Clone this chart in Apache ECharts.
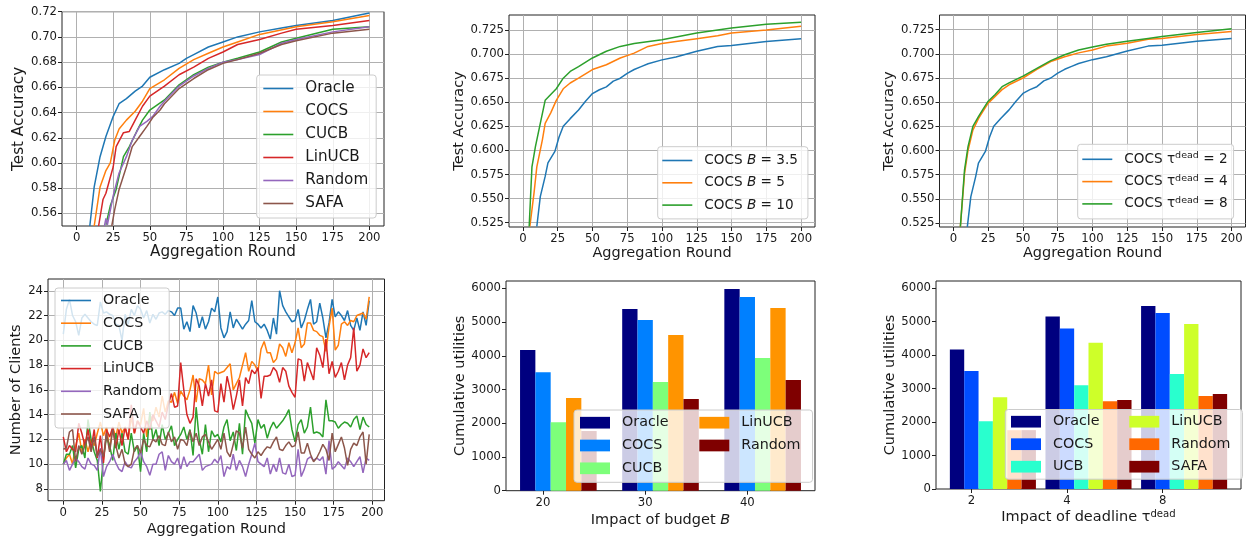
<!DOCTYPE html>
<html><head><meta charset="utf-8">
<script src="https://cdn.jsdelivr.net/npm/echarts@6.0.0/dist/echarts.min.js"></script>
<style>html,body{margin:0;padding:0;background:#fff}#c{width:1249px;height:541px}</style>
</head><body><div id="c"></div>
<script>
// ---------- Top-left: test accuracy of all methods ----------
const tlRoundsOracle = [9,12,16,20,25,29,34,40,45,50,60,70,75,80,90,100,110,125,140,150,175,200];
const tlAccOracle    = [0.550,0.581,0.605,0.621,0.637,0.647,0.651,0.657,0.661,0.668,0.674,0.679,0.683,0.686,0.692,0.696,0.700,0.704,0.707,0.709,0.713,0.719];
const tlRoundsCOCS   = [12,16,20,23,26,29,34,40,45,50,60,70,80,90,100,110,125,150,175,200];
const tlAccCOCS      = [0.550,0.581,0.594,0.600,0.618,0.627,0.634,0.641,0.649,0.659,0.666,0.675,0.682,0.687,0.692,0.696,0.702,0.708,0.712,0.717];
const tlRoundsCUCB   = [20,23,27,32,36,41,45,50,60,70,80,90,100,110,125,140,150,175,200];
const tlAccCUCB      = [0.551,0.566,0.579,0.605,0.613,0.625,0.634,0.642,0.650,0.662,0.670,0.676,0.680,0.683,0.688,0.696,0.699,0.706,0.708];
const tlRoundsLinUCB = [15,18,20,25,27,32,36,40,45,50,60,70,80,90,100,110,125,140,150,175,200];
const tlAccLinUCB    = [0.550,0.571,0.576,0.597,0.613,0.624,0.625,0.634,0.645,0.653,0.661,0.670,0.676,0.683,0.688,0.694,0.698,0.703,0.706,0.709,0.713];
const tlRoundsRandom = [19,20,21,25,29,34,38,43,48,52,57,60,70,80,90,100,110,125,140,150,175,200];
const tlAccRandom    = [0.550,0.556,0.551,0.574,0.592,0.605,0.618,0.629,0.633,0.637,0.645,0.649,0.661,0.669,0.675,0.680,0.682,0.686,0.695,0.698,0.704,0.708];
const tlRoundsSAFA   = [24,26,29,34,38,43,48,52,57,60,70,80,90,100,110,125,140,150,175,200];
const tlAccSAFA      = [0.550,0.563,0.579,0.597,0.613,0.621,0.629,0.636,0.642,0.647,0.659,0.667,0.674,0.679,0.682,0.687,0.694,0.697,0.703,0.706];
const tlYTicks = [0.56,0.58,0.60,0.62,0.64,0.66,0.68,0.70,0.72];

// ---------- Top-middle: impact of budget ----------
const budgetNames = ['3.5','5','10'];
const tmRoundsB35 = [10,12.5,16,18,23,26,29,34,40,45,50,55,60,65,70,75,80,85,90,100,110,125,140,150,175,200];
const tmAccB35    = [0.521,0.552,0.573,0.587,0.599,0.614,0.625,0.633,0.642,0.651,0.659,0.663,0.666,0.672,0.675,0.680,0.684,0.687,0.690,0.694,0.697,0.703,0.708,0.709,0.713,0.716];
const tmRoundsB5  = [5,8,10,14,16,20,24,29,34,40,50,60,70,80,90,100,110,125,140,150,175,200];
const tmAccB5     = [0.521,0.556,0.583,0.611,0.628,0.639,0.652,0.664,0.670,0.675,0.684,0.689,0.696,0.701,0.708,0.711,0.713,0.716,0.719,0.722,0.725,0.729];
const tmRoundsB10 = [4.5,6.5,9,12.5,16,20,24,29,34,40,50,60,70,80,100,125,150,175,200];
const tmAccB10    = [0.521,0.583,0.604,0.628,0.652,0.658,0.664,0.675,0.682,0.687,0.696,0.703,0.708,0.711,0.715,0.722,0.727,0.731,0.733];

// ---------- Top-right: impact of deadline ----------
const deadlineNames = ['2','4','8'];
const trRoundsT2 = tmRoundsB35;   // same curve as COCS B = 3.5
const trAccT2    = tmAccB35;
const trRoundsT4 = [5,8,10.5,14,18,21,25,30,35,40,50,60,70,80,90,100,110,125,140,150,175,200];
const trAccT4    = [0.521,0.576,0.600,0.621,0.633,0.640,0.649,0.656,0.663,0.668,0.675,0.684,0.692,0.697,0.701,0.704,0.708,0.711,0.715,0.716,0.720,0.723];
const trRoundsT8 = [5,8,10.5,14,18,21,25,30,35,40,50,60,70,80,90,100,110,125,140,150,175,200];
const trAccT8    = [0.521,0.580,0.604,0.625,0.635,0.642,0.651,0.658,0.666,0.670,0.677,0.685,0.693,0.699,0.704,0.707,0.710,0.713,0.716,0.718,0.722,0.726];
const accYTicks = [0.525,0.550,0.575,0.600,0.625,0.650,0.675,0.700,0.725];
const roundTicks = [0,25,50,75,100,125,150,175,200];

// ---------- Bottom-left: number of clients per round (every 2 rounds, 0..198) ----------
const blOracle = [20.5,22.5,23.3,22.0,21.5,20.4,21.8,22.1,21.8,21.5, 21.3,21.2,23.1,22.2,22.3,22.1,22.0,21.3,21.2,20.0,
  22.1,21.3,22.5,22.0,22.8,22.5,21.8,22.4,21.4,22.1, 21.7,22.2,22.3,22.1,22.4,22.3,22.0,22.6,22.6,20.9,
  21.5,20.7,22.8,22.2,21.0,21.9,20.9,21.5,22.6,22.3, 23.5,21.0,20.2,20.7,22.3,21.0,21.7,21.3,20.9,21.3,
  21.6,23.2,21.5,21.3,21.0,21.3,20.8,20.1,21.8,20.5, 24.0,22.8,22.3,21.9,21.5,21.6,22.5,21.0,21.6,22.5,
  23.3,21.3,21.5,23.0,21.8,20.2,21.4,23.3,21.9,22.3, 22.0,21.6,22.4,21.2,20.8,21.8,20.8,22.3,21.2,23.2];
const blCOCS = [10.0,10.5,10.8,10.0,11.5,12.5,11.0,12.0,11.0,12.0, 11.5,12.5,13.4,12.3,13.0,11.2,13.0,12.2,13.4,12.5,
  13.0,12.0,13.8,12.5,13.5,13.2,14.5,12.2,14.0,13.5, 14.6,13.8,15.5,14.2,15.1,15.0,15.8,14.9,15.9,15.5,
  15.2,16.0,17.2,15.0,16.9,16.8,16.5,18.0,15.6,17.5, 17.3,17.4,17.5,17.8,18.1,16.0,16.5,17.0,18.0,19.0,
  17.5,18.3,18.0,17.5,19.3,19.9,19.0,19.0,18.2,18.5, 19.7,19.4,18.7,19.8,19.0,19.8,21.0,19.4,19.7,21.4,
  21.4,20.8,20.7,20.4,20.3,19.1,21.1,22.6,19.2,19.6, 21.3,21.5,21.2,21.6,21.5,22.0,22.1,22.2,21.7,23.5];
const blCUCB = [10.0,10.8,10.8,11.5,9.7,11.2,11.5,10.5,13.6,12.0, 11.0,10.3,7.8,10.5,12.2,11.5,10.3,12.5,11.2,12.5,
  11.0,10.8,12.5,11.0,11.5,9.4,12.5,11.0,14.2,12.0, 12.8,11.5,13.2,12.0,12.5,13.1,11.5,12.0,12.4,13.0,
  12.0,12.8,10.7,14.6,12.0,10.8,13.2,11.0,12.7,12.2, 12.4,11.8,13.0,13.6,11.9,12.6,11.1,13.3,10.8,14.4,
  13.8,13.3,11.7,13.6,12.9,13.2,12.1,12.9,13.4,12.9, 13.2,13.5,13.9,14.4,12.8,11.8,13.2,13.6,12.5,13.0,
  14.6,12.5,12.6,12.5,12.2,15.2,13.5,13.5,13.4,12.9, 13.2,13.4,13.3,13.0,13.6,13.9,12.8,13.8,13.2,13.0];
const blLinUCB = [12.2,11.0,11.5,11.2,11.0,13.3,12.5,11.5,12.8,11.2, 12.8,10.5,12.3,10.1,12.8,12.2,13.0,11.3,12.8,11.5,
  13.0,12.0,14.8,12.5,13.5,13.0,12.5,13.5,12.8,14.0, 13.5,13.0,14.2,13.6,14.8,15.7,14.6,14.7,18.2,16.0,
  14.0,13.3,13.8,16.9,16.3,14.7,16.5,15.5,16.8,14.3, 14.2,16.5,15.0,17.1,16.0,14.4,15.5,16.8,14.7,17.0,
  16.5,17.6,17.3,17.8,15.3,17.1,17.1,17.2,17.8,17.5, 16.6,17.8,17.5,16.3,15.8,15.4,18.5,18.4,16.7,18.2,
  17.5,16.8,19.4,18.8,17.8,20.1,17.3,18.3,17.0,17.5, 18.2,16.8,18.0,18.6,21.0,17.5,18.0,19.3,18.6,19.0];
const blRandom = [10.0,10.3,9.5,10.0,10.5,10.2,9.8,9.6,10.5,10.0, 9.9,9.5,11.3,9.0,9.8,10.2,10.8,10.1,9.6,9.4,
  10.2,9.8,9.7,10.2,10.5,11.0,10.2,9.8,9.1,10.0, 10.0,10.8,11.0,9.5,10.7,10.2,10.0,10.5,9.6,10.6,
  9.8,10.2,10.2,10.5,10.8,9.5,9.8,9.9,10.0,10.4, 10.1,10.7,9.0,9.8,9.6,10.8,9.5,10.3,9.8,9.0,
  10.0,10.8,11.7,10.2,10.0,9.8,10.5,9.2,10.0,9.4, 10.5,9.3,9.2,10.0,9.0,9.1,11.2,9.0,9.6,10.4,
  10.6,10.3,10.5,10.3,10.6,9.2,11.9,9.6,9.8,10.2, 9.9,9.6,10.5,10.2,9.8,10.2,10.6,9.3,10.5,10.3];
const blSAFA = [11.2,11.3,12.6,12.8,10.2,11.5,10.8,11.5,12.2,11.0, 12.2,10.6,11.2,10.6,12.5,11.0,12.8,11.5,10.5,11.2,
  10.0,9.8,10.0,11.2,11.5,10.9,12.0,11.5,11.4,12.0, 11.8,12.3,11.6,11.5,12.6,11.8,12.2,11.2,12.0,11.9,
  11.5,12.7,11.8,12.5,11.5,12.2,12.4,11.8,11.2,11.6, 12.0,11.2,12.5,11.0,10.6,11.6,12.7,12.5,11.3,13.0,
  11.2,10.8,10.5,11.0,10.7,11.1,11.4,11.3,11.8,12.2, 11.2,11.1,11.5,11.8,11.4,11.5,12.6,10.9,10.9,11.7,
  10.8,10.2,10.5,11.0,11.6,11.2,10.3,12.5,11.0,11.6, 12.2,11.3,9.9,11.2,11.7,11.5,12.2,12.6,10.0,12.4];
const blRounds = blOracle.map((_, i) => i * 2);
const clientTicks = [8,10,12,14,16,18,20,22,24];

// ---------- Bottom-middle: impact of budget B (cumulative utilities) ----------
const budgetLabels = ['20','30','40'];
const bmOracle = [4171,5387,5980];
const bmCOCS   = [3509,5061,5743];
const bmCUCB   = [2026,3222,3934];
const bmLinUCB = [2748,4616,5417];
const bmRandom = [1769,2718,3282];

// ---------- Bottom-right: impact of deadline (cumulative utilities) ----------
const deadlineLabels = ['2','4','8'];
const brOracle = [4170,5159,5472];
const brCOCS   = [3525,4795,5263];
const brUCB    = [2026,3098,3439];
const brLinUCB = [2742,4375,4934];
const brRandom = [1758,2621,2781];
const brSAFA   = [1760,2659,2841];
const utilTicks = [0,1000,2000,3000,4000,5000,6000];
const groupPos = [0,1,2];

// ---------- styling ----------
const FONT = 'DejaVu Sans';
const TXT = '#1a1a1a';
const TAB = ['#1f77b4','#ff7f0e','#2ca02c','#d62728','#9467bd','#8c564b'];
const JET5 = ['#00007f','#0080ff','#7dff7a','#ff9400','#7f0000'];
const JET6 = ['#00007f','#004cff','#29ffce','#ceff29','#ff6800','#7f0000'];
const BAR_W = 0.15;

const grids = [
  {left:62,  top:11.7, width:322, height:214.3},
  {left:509, top:15,   width:306, height:212},
  {left:939.5, top:15, width:306, height:212},
  {left:48,  top:279,  width:336.5, height:221.7},
  {left:506, top:281,  width:309, height:209.7},
  {left:936, top:281,  width:305, height:208}
].map(g => Object.assign({show:true, borderColor:'#222', borderWidth:1, backgroundColor:'rgba(0,0,0,0)', containLabel:false, outerBoundsMode:'none'}, g));

function rich(fs) {
  return {
    g:{width:7},
    t:{fontFamily:FONT, fontSize:fs, color:TXT, lineHeight:17},
    i:{fontFamily:FONT, fontSize:fs, color:TXT, fontStyle:'italic', lineHeight:17},
    s:{fontFamily:FONT, fontSize:fs*0.7, color:TXT, verticalAlign:'top', lineHeight:10}
  };
}

function axis(gi, min, max, ticks, fmt, name, nameGap, nameFs, showGrid) {
  return {
    type:'value', gridIndex:gi, min, max,
    axisLine:{show:false, onZero:false},
    axisTick:{show:true, inside:false, length:4, customValues:ticks, lineStyle:{color:'#222', width:1}},
    axisLabel:{customValues:ticks, formatter:fmt, color:TXT, fontFamily:FONT, fontSize:11.7, margin:6},
    splitLine:{show:showGrid, customValues:ticks, lineStyle:{color:'#b0b0b0', width:1}},
    name, nameLocation:'middle', nameGap,
    nameTextStyle:{fontFamily:FONT, fontSize:nameFs, color:TXT, rich:rich(nameFs)}
  };
}

const f2 = v => v.toFixed(2), f3 = v => v.toFixed(3), f0 = v => String(Math.round(v));
const budgetTickPos = groupPos.map(p => p - 2.5*BAR_W + 1.5*BAR_W);
const deadlineTickPos = groupPos.map(p => p - 3*BAR_W + 1.5*BAR_W);
const lookup = (pos, labels) => v => { const k = pos.findIndex(p => Math.abs(p - v) < 1e-6); return k < 0 ? '' : labels[k]; };

const xAxes = [
  axis(0, -10, 210, roundTicks, f0, 'Aggregation Round', 19, 15.2, true),
  axis(1, -10, 210, roundTicks, f0, 'Aggregation Round', 19, 14.5, true),
  axis(2, -10, 210, roundTicks, f0, 'Aggregation Round', 19, 14.5, true),
  axis(3, -9.9, 207.9, roundTicks, f0, 'Aggregation Round', 21, 14.5, true),
  axis(4, -0.5125, 2.5125, budgetTickPos, lookup(budgetTickPos, budgetLabels), '{t|Impact of budget }{i|B}', 21, 14.5, false),
  axis(5, -0.595, 2.595, deadlineTickPos, lookup(deadlineTickPos, deadlineLabels), '{t|Impact of deadline τ}{s|dead}', 20, 14.5, false)
];
const yAxes = [
  axis(0, 0.55, 0.72, tlYTicks, f2, 'Test Accuracy', 35, 15.2, true),
  axis(1, 0.5205, 0.7406, accYTicks, f3, 'Test Accuracy', 42, 14.5, true),
  axis(2, 0.5208, 0.7402, accYTicks, f3, 'Test Accuracy', 42, 14.5, true),
  axis(3, 7.05, 24.95, clientTicks, f0, 'Number of Clients', 24, 14.5, true),
  axis(4, 0, 6217, utilTicks, f0, 'Cumulative utilities', 38, 14.5, false),
  axis(5, 0, 6218, utilTicks, f0, 'Cumulative utilities', 38, 14.5, false)
];
yAxes.forEach(a => { a.axisLabel.margin = 5; });

function line(name, gi, xs, ys, color) {
  return {type:'line', name, xAxisIndex:gi, yAxisIndex:gi,
    data: xs.map((x, i) => [x, ys[i]]),
    symbol:'none', showSymbol:false, clip:true, animation:false, silent:true,
    color, lineStyle:{width:1.5, color}, itemStyle:{color}};
}
function bar(name, gi, vals, color) {
  return {type:'bar', name, xAxisIndex:gi, yAxisIndex:gi,
    data: vals.map((v, i) => [groupPos[i], v]),
    barWidth:(BAR_W*100)+'%', barGap:'0%', animation:false, silent:true,
    color, itemStyle:{color}};
}

const methods = ['Oracle','COCS','CUCB','LinUCB','Random','SAFA'];
const tlX = [tlRoundsOracle, tlRoundsCOCS, tlRoundsCUCB, tlRoundsLinUCB, tlRoundsRandom, tlRoundsSAFA];
const tlY = [tlAccOracle, tlAccCOCS, tlAccCUCB, tlAccLinUCB, tlAccRandom, tlAccSAFA];
const blY = [blOracle, blCOCS, blCUCB, blLinUCB, blRandom, blSAFA];

const series = [];
methods.forEach((m, k) => series.push(line(m + '#tl', 0, tlX[k], tlY[k], TAB[k])));
[[tmRoundsB35, tmAccB35],[tmRoundsB5, tmAccB5],[tmRoundsB10, tmAccB10]].forEach((d, k) =>
  series.push(line('COCS B = ' + budgetNames[k] + '#tm', 1, d[0], d[1], TAB[k])));
[[trRoundsT2, trAccT2],[trRoundsT4, trAccT4],[trRoundsT8, trAccT8]].forEach((d, k) =>
  series.push(line('COCS tau = ' + deadlineNames[k] + '#tr', 2, d[0], d[1], TAB[k])));
methods.forEach((m, k) => series.push(line(m + '#bl', 3, blRounds, blY[k], TAB[k])));
const bmNames = ['Oracle','COCS','CUCB','LinUCB','Random'];
[bmOracle, bmCOCS, bmCUCB, bmLinUCB, bmRandom].forEach((v, k) => series.push(bar(bmNames[k] + '#bm', 4, v, JET5[k])));
const brNames = ['Oracle','COCS','UCB','LinUCB','Random','SAFA'];
[brOracle, brCOCS, brUCB, brLinUCB, brRandom, brSAFA].forEach((v, k) => series.push(bar(brNames[k] + '#br', 5, v, JET6[k])));

function legend(o, fs, names, fmt) {
  return Object.assign({
    orient:'vertical', selectedMode:false, icon:'rect', itemWidth:30, itemHeight:1.6,
    backgroundColor:'rgba(255,255,255,0.8)', borderColor:'#cccccc', borderWidth:1, borderRadius:3,
    data:names, formatter: fmt || (n => '{g|}' + n.split('#')[0]),
    textStyle:{fontFamily:FONT, fontSize:fs, color:TXT, lineHeight:17, rich:rich(fs)}
  }, o);
}
const fmtB = n => '{g|}{t|COCS }{i|B}{t| = ' + n.split('#')[0].split(' = ')[1] + '}';
const fmtT = n => '{g|}{t|COCS τ}{s|dead}{t| = ' + n.split('#')[0].split(' = ')[1] + '}';
const barLeg = {icon:'rect', itemWidth:30, itemHeight:11.7};
const noBox = {backgroundColor:'rgba(0,0,0,0)', borderWidth:0, padding:0};

const legends = [
  legend({left:256.7, top:75, padding:[5,8,6,6.6], itemGap:6}, 15.2, methods.map(m => m + '#tl')),
  legend({left:657.7, top:146.7, padding:[5.3,10,5.3,4.6], itemGap:5.3}, 13.6, budgetNames.map(b => 'COCS B = ' + b + '#tm'), fmtB),
  legend({left:1077.7, top:144.3, padding:[6.5,6,6.5,4.6], itemGap:5.3}, 13.6, deadlineNames.map(b => 'COCS tau = ' + b + '#tr'), fmtT),
  legend({left:55, top:288, padding:[4,7,5.5,6], itemGap:5.7}, 14.3, methods.map(m => m + '#bl')),
  legend(Object.assign({left:574, top:410, padding:[4.2,144,5.5,6], itemGap:5.8}, barLeg), 14.3, ['Oracle#bm','COCS#bm','CUCB#bm']),
  legend(Object.assign({left:699.3, top:414.2, itemGap:5.8}, barLeg, noBox), 14.3, ['LinUCB#bm','Random#bm']),
  legend(Object.assign({left:1005.3, top:409.5, padding:[3.7,143,4,5.7], itemGap:5.5}, barLeg), 14.3, ['Oracle#br','COCS#br','UCB#br']),
  legend(Object.assign({left:1129.3, top:413.2, itemGap:5.5}, barLeg, noBox), 14.3, ['LinUCB#br','Random#br','SAFA#br'])
];

const chart = echarts.init(document.getElementById('c'), null, {renderer:'canvas', width:1249, height:541});
chart.setOption({
  animation:false,
  backgroundColor:'#ffffff',
  textStyle:{fontFamily:FONT},
  grid:grids, xAxis:xAxes, yAxis:yAxes, legend:legends, series
});
</script></body></html>
